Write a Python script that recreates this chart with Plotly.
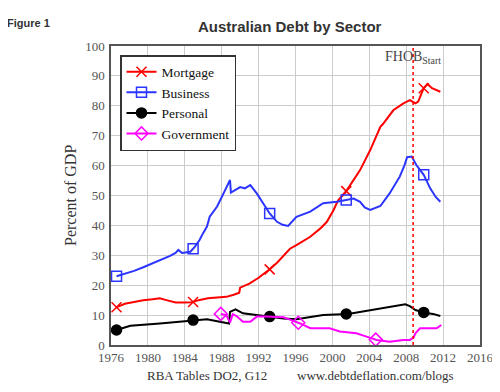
import numpy as np
import plotly.graph_objects as go

# ---------------- data ----------------
mort_years = [1976.5, 1977.5, 1978.5, 1979.5, 1980.5, 1981.3, 1982.0, 1983.0, 1984.0, 1984.8,
              1985.5, 1986.5, 1987.5, 1988.5, 1989.3, 1989.9, 1990.0, 1991.0, 1992.0, 1993.2,
              1994.0, 1994.8, 1995.4, 1996.1, 1997.0, 1997.6, 1998.7, 1999.4, 2000.1, 2000.6,
              2001.4, 2002.3, 2003.0, 2004.1, 2004.6, 2005.2, 2005.5, 2006.6, 2007.7, 2008.4,
              2009.0, 2009.3, 2009.9, 2010.3, 2010.8, 2011.7]
mort_vals = [12.5, 13.8, 14.4, 15.0, 15.3, 15.6, 15.0, 14.2, 14.2, 14.3,
             15.0, 15.6, 15.9, 16.1, 16.8, 17.5, 19.2, 20.5, 22.5, 25.3,
             27.5, 30.0, 32.2, 33.4, 35.0, 36.2, 39.0, 41.2, 45.0, 48.3,
             51.0, 55.2, 58.5, 65.2, 69.0, 73.0, 74.0, 78.5, 80.8, 81.9,
             80.8, 81.4, 85.9, 87.3, 85.9, 84.7]

bus_years = [1976.6, 1977.5, 1978.5, 1979.5, 1980.5, 1981.5, 1982.4, 1983.0, 1983.3, 1983.7,
             1984.6, 1985.1, 1985.6, 1986.0, 1986.4, 1986.7, 1987.5, 1988.2, 1988.6, 1988.9,
             1989.0, 1989.5, 1990.0, 1990.5, 1991.1, 1991.8, 1992.5, 1993.2, 1994.0, 1994.6,
             1995.2, 1995.7, 1996.1, 1997.6, 1999.0, 2000.5, 2001.5, 2002.3, 2003.0, 2003.5,
             2004.1, 2005.2, 2006.2, 2007.3, 2007.8, 2008.1, 2008.6, 2009.1, 2009.9, 2010.6,
             2011.2, 2011.7]
bus_vals = [23.0, 23.8, 24.8, 26.0, 27.3, 28.5, 29.8, 30.8, 31.8, 30.8,
            31.2, 32.9, 35.1, 37.5, 39.6, 42.9, 46.3, 50.7, 53.0, 55.2,
            51.0, 52.0, 52.8, 52.4, 53.5, 50.7, 47.4, 44.0, 41.2, 40.2,
            39.8, 41.5, 42.9, 44.6, 47.4, 47.9, 48.5, 49.0, 47.9, 46.0,
            45.2, 46.5, 50.7, 56.3, 60.0, 62.8, 63.0, 60.2, 56.9, 52.4,
            49.5, 47.9]

pers_years = [1976.6, 1978.1, 1981.3, 1983.8, 1985.1, 1986.4, 1987.8, 1988.8, 1988.9, 1989.5,
              1990.3, 1991.8, 1993.2, 1994.7, 1996.1, 1997.5, 1999.0, 2001.7, 2004.4, 2006.2,
              2007.9, 2008.4, 2009.0, 2010.0, 2010.9, 2011.7]
pers_vals = [5.0, 6.4, 7.2, 8.0, 8.4, 8.6, 7.8, 7.2, 11.1, 11.9,
             10.6, 10.0, 9.5, 8.9, 8.6, 9.2, 10.0, 10.4, 11.7, 12.6,
             13.6, 13.0, 11.7, 10.8, 10.4, 9.7]

gov_years = [1987.9, 1988.5, 1988.9, 1989.2, 1989.6, 1990.3, 1991.1, 1991.8, 1992.9, 1994.7,
             1995.4, 1996.5, 1997.6, 1999.7, 2000.8, 2002.6, 2003.7, 2004.8, 2006.2, 2007.7,
             2008.4, 2008.8, 2009.0, 2009.5, 2010.6, 2011.3, 2011.8]
gov_vals = [10.4, 10.0, 7.5, 10.3, 9.7, 7.8, 7.8, 9.5, 9.5, 9.3,
            8.5, 7.2, 5.6, 5.6, 4.5, 3.9, 2.8, 1.7, 1.1, 1.7,
            1.7, 2.5, 3.9, 5.6, 5.6, 5.6, 6.7]

marker_years = [1976.6, 1984.9, 1993.2, 2001.5, 2009.9]
gov_marker_years = [1987.9, 1996.3, 2004.7]

fhob_year = 2008.75
x_ticks = list(range(1976, 2017, 4))
y_ticks = list(range(0, 101, 10))

# ---------------- styling ----------------
SERIF = "Liberation Serif, Times New Roman, serif"
SANS = "Liberation Sans, Arial, sans-serif"

OFF = 8  # page body margin offset
W, H = 500 - OFF, 392 - OFF
L, T = 111 - OFF, 46 - OFF
R = W - (480 - OFF)
B = H - (345 - OFF)
pw, ph = W - L - R, H - T - B


def px(xp):
    return (xp - OFF - L) / pw


def py(yp):
    return (H - B - (yp - OFF)) / ph


series = [
    ("Mortgage", mort_years, mort_vals, marker_years, "#ff0000", "x-thin-open", 10),
    ("Business", bus_years, bus_vals, marker_years, "#2b35ff", "square-open", 10),
    ("Personal", pers_years, pers_vals, marker_years, "#000000", "circle", 10),
    ("Government", gov_years, gov_vals, gov_marker_years, "#ff00ff", "diamond-open", 10),
]

fig = go.Figure()
for name, xs, ys, myrs, color, sym, msz in series:
    fig.add_trace(go.Scatter(x=xs, y=ys, mode="lines", name=name, showlegend=False,
                             line=dict(color=color, width=2), legendgroup=name,
                             hoverinfo="skip"))
    my = np.interp(myrs, xs, ys)
    fig.add_trace(go.Scatter(x=myrs, y=my, mode="markers", showlegend=False, legendgroup=name,
                             marker=dict(symbol=sym, size=msz, color=color,
                                         line=dict(color=color, width=1.5)),
                             hoverinfo="skip"))
    # legend entry
    fig.add_trace(go.Scatter(x=[None], y=[None], mode="lines+markers", name=name, legendgroup=name,
                             line=dict(color=color, width=2),
                             marker=dict(symbol=sym, size=msz, color=color,
                                         line=dict(color=color, width=1.5))))

# FHOB start line
fig.add_shape(type="line", x0=fhob_year, x1=fhob_year, y0=0, y1=100, xref="x", yref="y",
              line=dict(color="#ff0000", width=1.5, dash="dot"))
fig.add_annotation(x=fhob_year, y=100, xref="x", yref="y", yanchor="top", xanchor="center",
                   yshift=-1, showarrow=False, text="FHOB<sub>Start</sub>",
                   font=dict(family=SERIF, size=14, color="#444444"))

# titles & notes (paper coordinates)
fig.add_annotation(x=px(290), y=py(26), xref="paper", yref="paper", showarrow=False,
                   xanchor="center", yanchor="middle",
                   text="<b>Australian Debt by Sector</b>",
                   font=dict(family=SANS, size=15, color="#333333"))
fig.add_annotation(x=px(5), y=py(23), xref="paper", yref="paper", xanchor="left",
                   yanchor="middle", showarrow=False, text="<b>Figure 1</b>",
                   font=dict(family=SANS, size=11, color="#333333"))
fig.add_annotation(x=px(70), y=py(196), xref="paper", yref="paper", showarrow=False,
                   xanchor="center", yanchor="middle",
                   textangle=-90, text="Percent of GDP",
                   font=dict(family=SERIF, size=16, color="#333333"))
fig.add_annotation(x=px(207), y=py(375), xref="paper", yref="paper", showarrow=False,
                   xanchor="center", yanchor="middle",
                   text="RBA Tables DO2, G12",
                   font=dict(family=SERIF, size=13, color="#333333"))
fig.add_annotation(x=px(375), y=py(375), xref="paper", yref="paper", showarrow=False,
                   xanchor="center", yanchor="middle",
                   text="www.debtdeflation.com/blogs",
                   font=dict(family=SERIF, size=13, color="#333333"))

fig.update_layout(
    width=W, height=H,
    margin=dict(l=L, r=R, t=T, b=B, autoexpand=False),
    paper_bgcolor="white", plot_bgcolor="white",
    showlegend=True,
    legend=dict(x=px(120), y=py(55), xanchor="left", yanchor="top",
                bgcolor="white", bordercolor="#333333", borderwidth=1.5,
                font=dict(family=SERIF, size=13.5, color="#111111"),
                tracegroupgap=0, itemwidth=30),
)
fig.update_xaxes(range=[1976, 2016], tickvals=x_ticks, ticktext=[str(t) for t in x_ticks],
                 showgrid=True, gridcolor="#cccccc", gridwidth=1, automargin=False,
                 showline=True, linecolor="#555555", linewidth=1.5, mirror=True,
                 zeroline=False, ticks="", tickfont=dict(family=SERIF, size=13, color="#555555"))
fig.update_yaxes(range=[0, 100], tickvals=y_ticks, ticktext=[str(t) for t in y_ticks],
                 showgrid=True, gridcolor="#cccccc", gridwidth=1, automargin=False,
                 showline=True, linecolor="#555555", linewidth=1.5, mirror=True,
                 zeroline=False, ticks="", ticklabelstandoff=2,
                 tickfont=dict(family=SERIF, size=13, color="#555555"))

fig.write_html("out.html")
